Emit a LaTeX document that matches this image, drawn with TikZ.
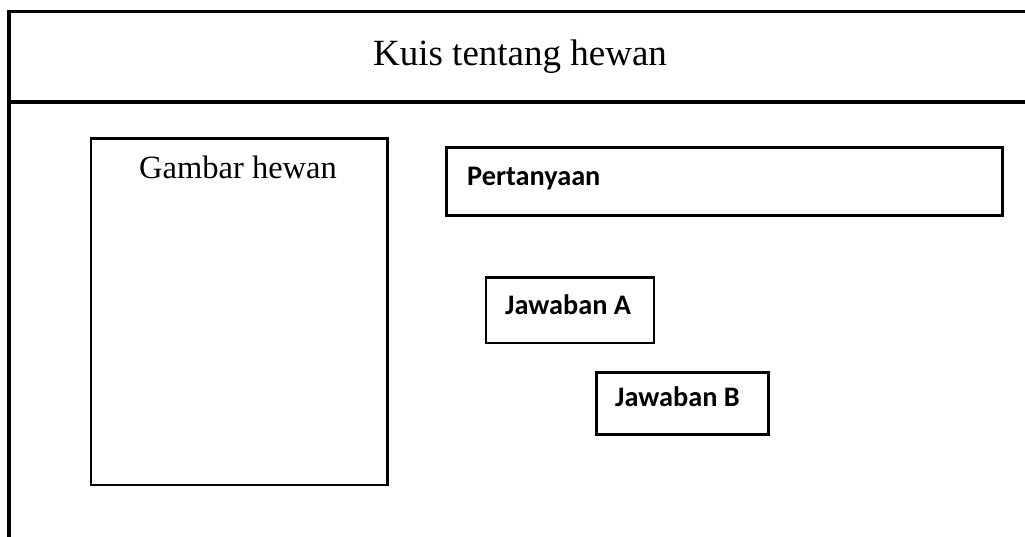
\documentclass[tikz,border=0pt]{standalone}
\usepackage{fontspec}
\setmainfont{Liberation Serif}
\newfontfamily\uifont{Carlito}
\begin{document}
\begin{tikzpicture}[x=1pt,y=-1pt,
  frameline/.style={line width=3.3pt,line cap=rect},
  panel/.style={draw,line width=2.8pt,inner sep=0pt,anchor=north west},
  serif/.style={inner sep=0pt,font=\fontsize{37}{40}\selectfont},
  uitext/.style={inner sep=0pt,anchor=base west,font=\uifont\bfseries\fontsize{28.3}{32}\selectfont}]
  \useasboundingbox (0,0) rectangle (1025,537);
  % page frame: left edge, top edge and header rule
  \coordinate (tl) at (9,11.5);
  \coordinate (tr) at (1026,11.5);
  \coordinate (bl) at (9,538);
  \coordinate (hl) at (9,102);
  \coordinate (hr) at (1026,102);
  \draw[frameline] (bl) -- (tl) -- (tr);
  \draw[frameline] (hl) -- (hr);
  \node[serif,anchor=base] (title) at (520,65.5) {Kuis tentang hewan};
  % picture panel
  \node[panel,minimum width=296.5pt,minimum height=346.5pt] (gambar) at (89.5,137) {};
  \node[serif,anchor=base,font=\fontsize{32.5}{36}\selectfont] (gambarlbl) at (238,178.5) {Gambar hewan};
  % question bar
  \node[panel,minimum width=556pt,minimum height=68.5pt] (tanya) at (445,146) {};
  \node[uitext] (tanyalbl) at (467,186) {Pertanyaan};
  % answer buttons
  \node[panel,minimum width=168pt,minimum height=65pt] (jawa) at (484.5,276.5) {};
  \node[uitext] (jawalbl) at (505,314) {Jawaban A};
  \node[panel,minimum width=171.5pt,minimum height=62pt] (jawb) at (595.3,371) {};
  \node[uitext] (jawblbl) at (615,406) {Jawaban B};
\end{tikzpicture}
\end{document}
